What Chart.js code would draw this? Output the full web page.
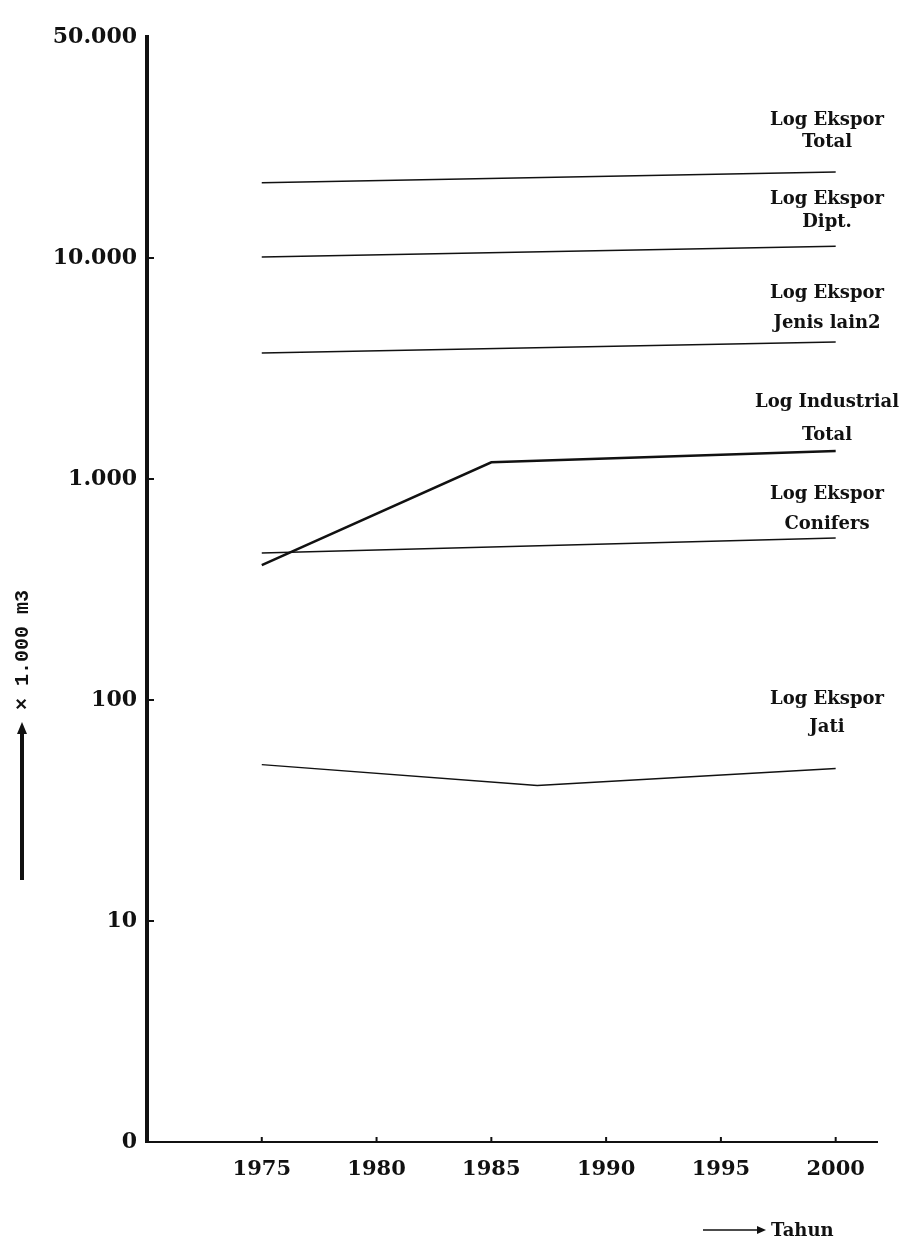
<!doctype html>
<html lang="id">
<head>
  <meta charset="utf-8">
  <title>Log Ekspor dan Log Industrial</title>
  <style>
    * { margin: 0; padding: 0; }
    body { background: #fff; }
    .chartBox { width: 915px; height: 1257px; }
  </style>
</head>
<body>
  <div class="chartBox"><canvas id="myChart" width="915" height="1257"></canvas></div>
  <script src="https://cdn.jsdelivr.net/npm/chart.js/dist/chart.umd.min.js"></script>
  <script>
    // setup (x 1.000 m3)
    const yearsTwo = [1975, 2000];
    const yearsIndustrial = [1975, 1985, 2000];
    const yearsJati = [1975, 1987, 2000];

    const eksporTotal = [21900, 24500];
    const eksporDipt = [10100, 11300];
    const eksporJenisLain = [3720, 4170];
    const industrialTotal = [408, 1190, 1340];
    const eksporConifers = [462, 541];
    const eksporJati = [51, 41, 49];

    const xTicks = [1975, 1980, 1985, 1990, 1995, 2000];
    const yTicks = [1, 10, 100, 1000, 10000, 100000];
    const yTickLabels = ['0', '10', '100', '1.000', '10.000', '50.000'];

    const seriesNames = [
      ['Log Ekspor', 'Total'],
      ['Log Ekspor', 'Dipt.'],
      ['Log Ekspor', 'Jenis lain2'],
      ['Log Industrial', 'Total'],
      ['Log Ekspor', 'Conifers'],
      ['Log Ekspor', 'Jati']
    ];
    // baseline of each label line, in pixels
    const labelRows = [[125, 147], [204, 227], [298, 328], [407, 440], [499, 529], [704, 732]];

    const serif = "'DejaVu Serif', 'Liberation Serif', serif";
    const pts = (xs, ys) => xs.map((x, i) => ({ x, y: ys[i] }));

    const lineSet = (data, width) => ({
      data,
      borderColor: '#111',
      borderWidth: width,
      pointRadius: 0,
      tension: 0,
      fill: false
    });

    //pluginBlock
    const innerTicks = {
      id: 'innerTicks',
      afterDraw(chart) {
        const { ctx, chartArea, scales: { x, y } } = chart;
        ctx.save();
        ctx.strokeStyle = '#111';
        ctx.lineWidth = 2;
        yTicks.slice(0, -1).forEach(v => {
          const py = y.getPixelForValue(v);
          ctx.beginPath();
          ctx.moveTo(chartArea.left, py);
          ctx.lineTo(chartArea.left + 7, py);
          ctx.stroke();
        });
        xTicks.forEach(v => {
          const px = x.getPixelForValue(v);
          ctx.beginPath();
          ctx.moveTo(px, chartArea.bottom);
          ctx.lineTo(px, chartArea.bottom - 5);
          ctx.stroke();
        });
        ctx.restore();
      }
    };

    const textBlock = {
      id: 'textBlock',
      afterDraw(chart) {
        const { ctx } = chart;
        ctx.save();
        ctx.fillStyle = '#111';
        ctx.strokeStyle = '#111';

        // series labels
        ctx.font = 'bold 18px ' + serif;
        ctx.textAlign = 'center';
        ctx.textBaseline = 'alphabetic';
        seriesNames.forEach((lines, i) => {
          lines.forEach((t, j) => ctx.fillText(t, 827, labelRows[i][j]));
        });

        // y title with arrow
        ctx.save();
        ctx.translate(28, 650);
        ctx.rotate(-Math.PI / 2);
        ctx.font = "bold 20px 'Liberation Mono', monospace";
        ctx.textAlign = 'center';
        ctx.fillText('× 1.000 m3', 0, 0);
        ctx.restore();
        ctx.lineWidth = 4;
        ctx.beginPath();
        ctx.moveTo(22, 880);
        ctx.lineTo(22, 732);
        ctx.stroke();
        ctx.beginPath();
        ctx.moveTo(22, 722);
        ctx.lineTo(17, 734);
        ctx.lineTo(27, 734);
        ctx.closePath();
        ctx.fill();

        // x title with arrow
        ctx.lineWidth = 1.5;
        ctx.beginPath();
        ctx.moveTo(703, 1230);
        ctx.lineTo(760, 1230);
        ctx.stroke();
        ctx.beginPath();
        ctx.moveTo(766, 1230);
        ctx.lineTo(757, 1226);
        ctx.lineTo(757, 1234);
        ctx.closePath();
        ctx.fill();
        ctx.font = 'bold 18px ' + serif;
        ctx.textAlign = 'left';
        ctx.textBaseline = 'middle';
        ctx.fillText('Tahun', 771, 1231);

        ctx.restore();
      }
    };

    // config
    const config = {
      type: 'line',
      data: {
        datasets: [
          lineSet(pts(yearsTwo, eksporTotal), 1.5),
          lineSet(pts(yearsTwo, eksporDipt), 1.5),
          lineSet(pts(yearsTwo, eksporJenisLain), 1.5),
          lineSet(pts(yearsIndustrial, industrialTotal), 2.5),
          lineSet(pts(yearsTwo, eksporConifers), 1.5),
          lineSet(pts(yearsJati, eksporJati), 1.5)
        ]
      },
      options: {
        responsive: false,
        animation: false,
        layout: { padding: { top: 37, right: 38, bottom: 0, left: 0 } },
        plugins: {
          legend: { display: false },
          tooltip: { enabled: false }
        },
        scales: {
          x: {
            type: 'linear',
            min: 1970,
            max: 2001.8,
            afterBuildTicks: s => { s.ticks = xTicks.map(v => ({ value: v })); },
            afterFit: s => { s.height = 115; },
            grid: { display: true, drawOnChartArea: false, drawTicks: false },
            border: { display: true, color: '#111', width: 2 },
            ticks: {
              color: '#111',
              padding: 15,
              maxRotation: 0,
              autoSkip: false,
              font: { family: serif, size: 21, weight: 'bold' },
              callback: v => String(v)
            }
          },
          y: {
            type: 'logarithmic',
            min: 1,
            max: 100000,
            afterBuildTicks: s => { s.ticks = yTicks.map(v => ({ value: v })); },
            afterFit: s => { s.width = 147; },
            grid: { display: true, drawOnChartArea: false, drawTicks: false },
            border: { display: true, color: '#111', width: 4 },
            ticks: {
              color: '#111',
              padding: 10,
              autoSkip: false,
              font: { family: serif, size: 22, weight: 'bold' },
              callback: (v, i) => yTickLabels[i]
            }
          }
        }
      },
      plugins: [innerTicks, textBlock]
    };

    // render init block
    const myChart = new Chart(document.getElementById('myChart'), config);
  </script>
</body>
</html>
